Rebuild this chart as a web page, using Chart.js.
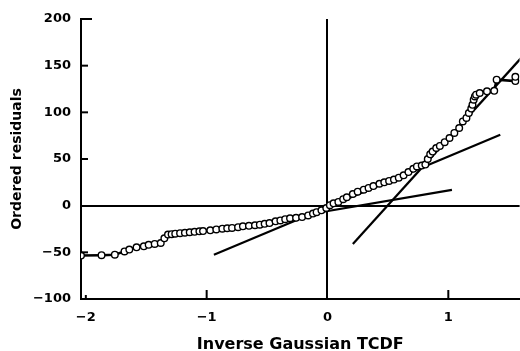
<!DOCTYPE html>
<html>
<head>
<meta charset="utf-8">
<script src="https://cdn.jsdelivr.net/npm/chart.js@4"></script>
<style>
  html, body { margin: 0; padding: 0; background: #fff; overflow: hidden; }
  #wrap { width: 525px; height: 351px; }
</style>
</head>
<body>
<div id="wrap"><canvas id="qq"></canvas></div>
<script>
// normal quantiles (x) and ordered residuals (y)
const quantiles = [-2.04, -1.87, -1.76, -1.68, -1.64, -1.58, -1.52, -1.48, -1.43, -1.38,
    -1.35, -1.32, -1.29, -1.26, -1.22, -1.18, -1.14, -1.10, -1.06, -1.03,
    -0.97, -0.92, -0.87, -0.83, -0.79, -0.74, -0.70, -0.65, -0.60, -0.56,
    -0.52, -0.48, -0.43, -0.39, -0.35, -0.31, -0.26, -0.21, -0.16, -0.12,
    -0.09, -0.05, -0.01, 0.02, 0.05, 0.09, 0.13, 0.16, 0.21, 0.25,
    0.30, 0.34, 0.38, 0.43, 0.47, 0.51, 0.55, 0.59, 0.63, 0.67,
    0.71, 0.74, 0.78, 0.81, 0.83, 0.85, 0.87, 0.90, 0.93, 0.97,
    1.01, 1.05, 1.09, 1.12, 1.15, 1.17, 1.19, 1.20, 1.21, 1.22,
    1.23, 1.26, 1.32, 1.38, 1.40, 1.555, 1.555];
const residuals = [-53.5, -53, -52.5, -49, -47, -44.6, -43.6, -42, -41, -40,
    -35, -31, -30.5, -30, -29.5, -29, -28.5, -28, -27.5, -27.2,
    -26.4, -25.5, -24.6, -24.2, -23.9, -23, -22.1, -21.6, -21, -20.4,
    -19.5, -18.6, -16.8, -15.8, -14.5, -13.5, -13, -12.2, -10.5, -8.5,
    -7, -5, -2.5, 0.5, 2.5, 4, 7, 9, 12.5, 15,
    17.1, 19, 21, 23.5, 25, 26.5, 28, 30, 32.5, 36,
    39.5, 42, 43, 44, 50, 55, 58, 61.8, 64, 68,
    72.5, 77.9, 83.2, 90.3, 94, 99.3, 104, 108, 113.6, 117,
    118.9, 120.7, 122.5, 123, 135, 133.5, 138];

// straight reference lines [x, y] end points
const lineSteep = [[0.21, -41], [1.65, 165]];
const lineMid = [[-0.94, -52.5], [1.43, 76]];
const lineFlat = [[-0.3, -12.4], [1.03, 17]];

const xTicks = [-2, -1, 0, 1];
const yTicks = [-100, -50, 0, 50, 100, 150, 200];

const toPoints = (xs, ys) => xs.map((x, i) => ({ x: x, y: ys[i] }));
const segment = (pair) => pair.map(p => ({ x: p[0], y: p[1] }));
const fmt = (v) => (v < 0 ? "\u2212" + Math.abs(v) : String(v));

// tick marks that point into the plot
const innerTicks = {
    id: "innerTicks",
    afterDraw(chart) {
        const { ctx, chartArea, scales } = chart;
        ctx.save();
        ctx.strokeStyle = "#000";
        ctx.lineWidth = 2;
        yTicks.forEach(v => {
            if (v === -100 || v === 0) return;
            const y = scales.y.getPixelForValue(v);
            ctx.beginPath();
            ctx.moveTo(chartArea.left, y);
            ctx.lineTo(chartArea.left + (v === 200 ? 11 : 7), y);
            ctx.stroke();
        });
        xTicks.forEach(v => {
            if (v === 0) return;
            const x = scales.x.getPixelForValue(v);
            ctx.beginPath();
            ctx.moveTo(x, chartArea.bottom);
            ctx.lineTo(x, chartArea.bottom - (v === -2 ? 4 : 9));
            ctx.stroke();
        });
        ctx.restore();
    }
};

const zeroLine = (c) => (c.tick && c.tick.value === 0 ? "#000" : "rgba(0,0,0,0)");
const lineStyle = { type: "scatter", showLine: true, borderColor: "#000", borderWidth: 2.2, pointRadius: 0 };

new Chart(document.getElementById("qq"), {
    type: "scatter",
    data: {
        datasets: [{
                data: toPoints(quantiles, residuals),
                showLine: true,
                borderColor: "#000",
                borderWidth: 2.5,
                pointRadius: 3.3,
                pointBorderWidth: 1.4,
                pointBackgroundColor: "#fff",
                pointBorderColor: "#000",
            },
            Object.assign({ data: segment(lineSteep) }, lineStyle),
            Object.assign({ data: segment(lineMid) }, lineStyle),
            Object.assign({ data: segment(lineFlat) }, lineStyle),
        ],
    },
    options: {
        responsive: true,
        maintainAspectRatio: false,
        animation: false,
        layout: { padding: { top: 19, right: 0, left: 0, bottom: 0 } },
        plugins: { legend: { display: false }, tooltip: { enabled: false } },
        scales: {
            x: {
                type: "linear",
                min: -2.04,
                max: 1.59,
                afterBuildTicks: (s) => { s.ticks = xTicks.map(v => ({ value: v })); },
                afterFit: (s) => { s.height = 52; },
                grid: { color: zeroLine, lineWidth: 2, drawTicks: false },
                border: { display: true, color: "#000", width: 2 },
                ticks: {
                    color: "#000",
                    padding: 11,
                    font: { family: "DejaVu Sans", size: 13, weight: "bold" },
                    callback: fmt,
                },
                title: {
                    display: true,
                    text: "Inverse Gaussian TCDF",
                    color: "#000",
                    font: { family: "DejaVu Sans", size: 16, weight: "bold" },
                    padding: { top: 0, bottom: -3 },
                },
            },
            y: {
                type: "linear",
                min: -100,
                max: 200,
                afterBuildTicks: (s) => { s.ticks = yTicks.map(v => ({ value: v })); },
                afterFit: (s) => { s.width = 81; },
                grid: { color: zeroLine, lineWidth: 2, drawTicks: false },
                border: { display: true, color: "#000", width: 2 },
                ticks: {
                    color: "#000",
                    padding: 10,
                    font: { family: "DejaVu Sans", size: 13, weight: "bold" },
                    callback: fmt,
                },
                title: {
                    display: true,
                    text: "Ordered residuals",
                    color: "#000",
                    font: { family: "DejaVu Sans", size: 14, weight: "bold" },
                    padding: { top: 9, bottom: 0 },
                },
            },
        },
    },
    plugins: [innerTicks],
});
</script>
</body>
</html>
